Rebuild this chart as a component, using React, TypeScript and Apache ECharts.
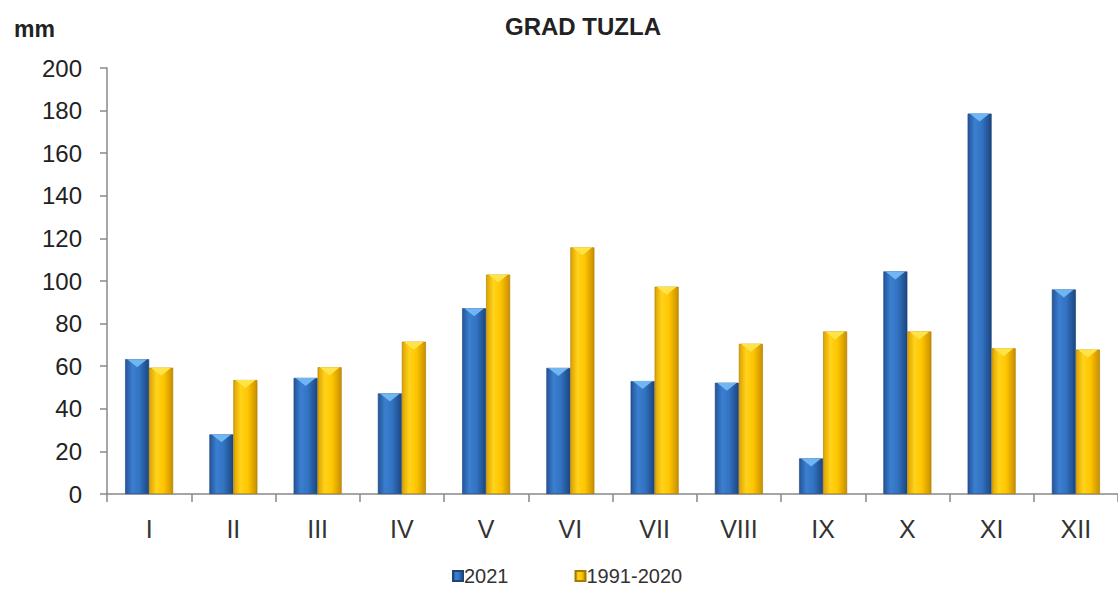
import React, { useEffect, useRef } from "react";
import * as echarts from "echarts";

const months = ["I", "II", "III", "IV", "V", "VI", "VII", "VIII", "IX", "X", "XI", "XII"];
const values2021 = [63.3, 28, 54.5, 47.2, 87.2, 59.2, 53, 52.2, 16.7, 104.5, 178.6, 96];
const valuesNormal = [59.3, 53.5, 59.5, 71.5, 103, 115.8, 97.3, 70.5, 76.3, 76.3, 68.4, 67.8];
const seriesNames = ["2021", "1991-2020"];

const FONT = "'Liberation Sans', Arial, sans-serif";

function hGrad(stops: [number, string][]) {
  return new echarts.graphic.LinearGradient(
    0, 0, 1, 0,
    stops.map(([offset, color]) => ({ offset, color }))
  );
}

const blueGrad = () =>
  hGrad([
    [0, "#24549a"],
    [0.3, "#3b7fd0"],
    [0.6, "#3273c2"],
    [1, "#1c4680"],
  ]);
const yellowGrad = () =>
  hGrad([
    [0, "#dea200"],
    [0.3, "#ffd31c"],
    [0.6, "#ffc600"],
    [1, "#c98f00"],
  ]);

export default function App() {
  const ref = useRef<HTMLDivElement>(null);
  useEffect(() => {
    if (!ref.current) return;
    const chart = echarts.init(ref.current, undefined, { renderer: "svg" });
    const tri = "path://M0,0 L10,0 L5,6 Z";
    chart.setOption({
      animation: false,
      backgroundColor: "#ffffff",
      textStyle: { fontFamily: FONT },
      title: [
        {
          text: "GRAD TUZLA",
          left: 578,
          top: 9,
          textAlign: "center",
          textStyle: { fontSize: 24, fontWeight: "bold", color: "#222", fontFamily: FONT },
        },
        {
          text: "mm",
          left: 9,
          top: 12,
          textStyle: { fontSize: 23, fontWeight: "bold", color: "#222", fontFamily: FONT },
        },
      ],
      legend: {
        bottom: 0,
        left: 447,
        itemGap: 66,
        itemWidth: 10,
        itemHeight: 10,
        icon: "rect",
        data: seriesNames,
        textStyle: { fontSize: 20, color: "#333", fontFamily: FONT, padding: [0, 0, 0, -4] },
      },
      grid: { left: 107, right: 0, top: 68, bottom: 97 },
      xAxis: {
        type: "category",
        data: months,
        axisLine: { show: true, lineStyle: { color: "#888", width: 1.5 } },
        axisTick: { show: true, length: 8, lineStyle: { color: "#888", width: 1.5 } },
        axisLabel: { fontSize: 25, color: "#333", margin: 22, fontFamily: FONT },
      },
      yAxis: {
        type: "value",
        min: 0,
        max: 200,
        interval: 20,
        axisLine: { show: true, lineStyle: { color: "#888", width: 1.5 } },
        axisTick: { show: true, length: 7, lineStyle: { color: "#888", width: 1.5 } },
        axisLabel: { fontSize: 24, color: "#222", margin: 25, fontFamily: FONT },
        splitLine: { show: false },
      },
      series: [
        {
          name: seriesNames[0],
          type: "bar",
          data: values2021,
          barWidth: 24,
          barGap: "0%",
          itemStyle: { color: blueGrad(), borderColor: "#1d4577", borderWidth: 0.6 },
        },
        {
          name: seriesNames[1],
          type: "bar",
          data: valuesNormal,
          barWidth: 24,
          barGap: "0%",
          itemStyle: { color: yellowGrad(), borderColor: "#a87a00", borderWidth: 0.6 },
        },
        {
          name: seriesNames[0],
          type: "pictorialBar",
          data: values2021,
          barWidth: 24,
          barGap: "0%",
          symbol: tri,
          symbolSize: [20, 8],
          symbolPosition: "end",
          symbolOffset: [0, 0],
          z: 5,
          silent: true,
          itemStyle: { color: "#6fb6f2" },
        },
        {
          name: seriesNames[1],
          type: "pictorialBar",
          data: valuesNormal,
          barWidth: 24,
          barGap: "0%",
          symbol: tri,
          symbolSize: [20, 8],
          symbolPosition: "end",
          symbolOffset: [0, 0],
          z: 5,
          silent: true,
          itemStyle: { color: "#ffe34a" },
        },
      ],
    });
    return () => chart.dispose();
  }, []);
  return (
    <div
      ref={ref}
      style={{ position: "fixed", left: 0, top: 0, width: 1118, height: 591, background: "#fff" }}
    />
  );
}
